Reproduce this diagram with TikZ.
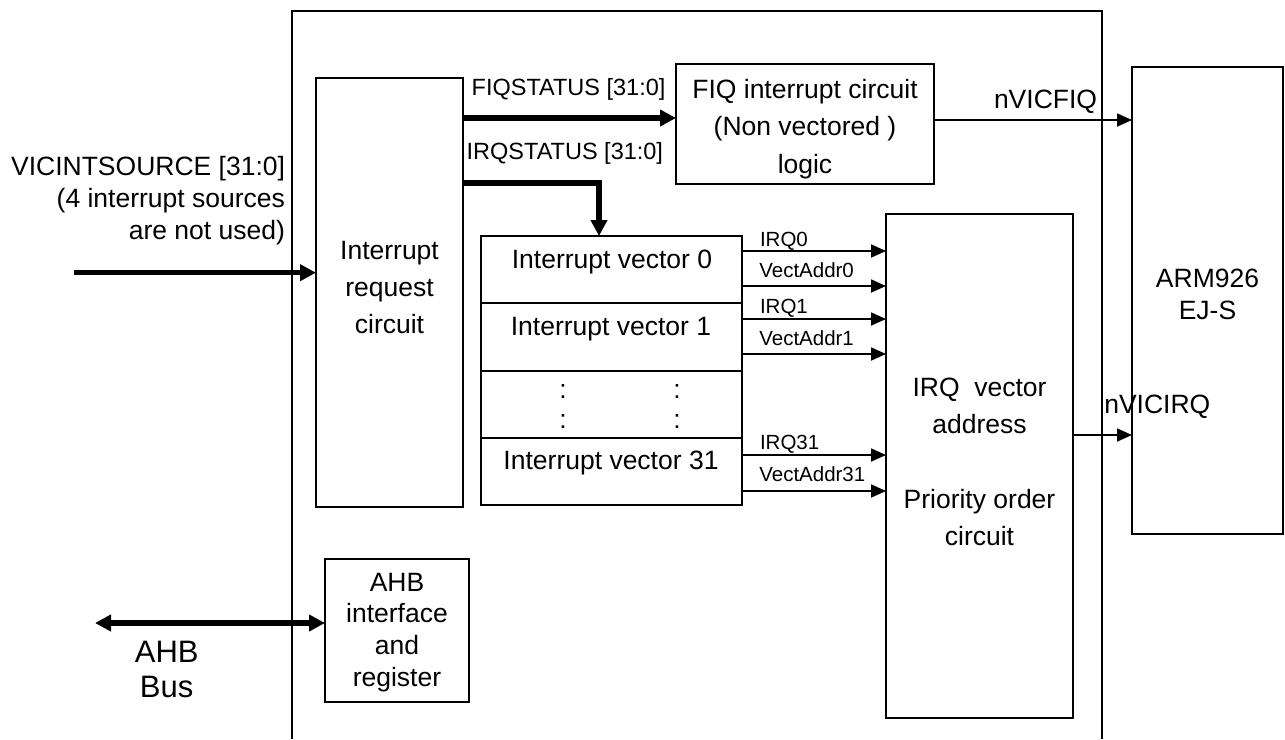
\documentclass[tikz,border=0pt]{standalone}
\usepackage{fontspec}
\setmainfont{Liberation Sans}
\usetikzlibrary{arrows.meta}
\newcommand\myfs[2]{\fontsize{#1pt}{#2pt}\selectfont}
\begin{document}
\begin{tikzpicture}[x=1pt,y=-1pt,
  box/.style={draw,line width=1.8pt,inner sep=0pt,outer sep=0pt,anchor=north west},
  ln/.style={line width=1.8pt},
  txt/.style={inner sep=0pt,outer sep=0pt,font=\myfs{26.5}{32}},
  stat/.style={inner sep=0pt,outer sep=0pt,font=\myfs{23.5}{28},anchor=base west},
  sig/.style={inner sep=0pt,outer sep=0pt,font=\myfs{20.5}{24},anchor=base west},
  thinarrow/.style={line width=1.8pt,-{Triangle[length=15pt,width=13pt]}},
  thickarrow/.style={line width=5.5pt,-{Triangle[length=16pt,width=16pt]}},
  dblarrow/.style={line width=5.5pt,{Triangle[length=16pt,width=16pt]}-{Triangle[length=16pt,width=16pt]}}
]
\useasboundingbox (0,0) rectangle (1285,739);
\fill[white] (0,0) rectangle (1285,739);

% outer frame (open at bottom)
\coordinate (fbl) at (292,739);
\coordinate (ftl) at (292,11);
\coordinate (ftr) at (1102,11);
\coordinate (fbr) at (1102,739);
\draw[ln] (fbl) -- (ftl) -- (ftr) -- (fbr);

% boxes
\node[box,minimum width=147pt,minimum height=429pt] (irc) at (316,78) {};
\node[box,minimum width=258pt,minimum height=120pt] (fiq) at (676,64) {};
\node[box,minimum width=261pt,minimum height=269pt] (vec) at (481,236) {};
\node[box,minimum width=187pt,minimum height=504pt] (irq) at (886,214) {};
\node[box,minimum width=151pt,minimum height=467pt] (arm) at (1132,67) {};
\node[box,minimum width=144pt,minimum height=143pt] (ahb) at (325,559) {};

% vector dividers
\draw[ln] (vec.west |- 0,303) -- (vec.east |- 0,303);
\draw[ln] (vec.west |- 0,371) -- (vec.east |- 0,371);
\draw[ln] (vec.west |- 0,438) -- (vec.east |- 0,438);

% box texts
\node[txt,align=right,anchor=north east] (srctxt) at (285,156) {VICINTSOURCE [31:0]\\(4 interrupt sources\\are not used)};
\node[txt,align=center,anchor=north,font=\myfs{26.5}{37}] (irctxt) at (389.5,241.5) {Interrupt\\request\\circuit};
\node[txt,align=center,anchor=north,font=\myfs{26.5}{37.5}] (fiqtxt) at (805,79) {FIQ interrupt circuit\\(Non vectored )\\logic};
\node[txt,align=center,anchor=north,font=\myfs{26.5}{31.7}] (ahbtxt) at (397,573) {AHB\\interface\\and\\register};
\node[txt,align=center,anchor=north,font=\myfs{26.5}{31.7}] (armtxt) at (1207.5,269) {ARM926\\EJ-S};
\node[txt,align=center,anchor=north,font=\myfs{26.5}{37.3}] (irqtxt) at (979.5,378) {IRQ\ \ vector\\address\\[37.3pt]Priority order\\circuit};
\node[txt,align=center,anchor=north,font=\myfs{31}{35}] (bustxt) at (166.7,641) {AHB\\Bus};

\node[txt,anchor=base] (v0) at (612,268.3) {Interrupt vector 0};
\node[txt,anchor=base] (v1) at (611,335) {Interrupt vector 1};
\node[txt,anchor=base] (v31) at (611,469.3) {Interrupt vector 31};
\node[txt,anchor=base] (c1) at (563,398) {:};
\node[txt,anchor=base] (c2) at (677,398) {:};
\node[txt,anchor=base] (c3) at (563,428) {:};
\node[txt,anchor=base] (c4) at (677,428) {:};

% status labels
\node[stat] (fiqs) at (471.7,95) {FIQSTATUS [31:0]};
\node[stat] (irqs) at (466.7,159.3) {IRQSTATUS [31:0]};
\node[txt,anchor=base west] (nfiq) at (994,108.3) {nVICFIQ};
\node[txt,anchor=base west] (nirq) at (1104.3,413.3) {nVICIRQ};

% signal labels
\node[sig] (l0) at (760,246) {IRQ0};
\node[sig] (l1) at (759.3,277) {VectAddr0};
\node[sig] (l2) at (760,313.3) {IRQ1};
\node[sig] (l3) at (759.3,345.7) {VectAddr1};
\node[sig] (l4) at (760,449.3) {IRQ31};
\node[sig] (l5) at (759.3,481.7) {VectAddr31};

% connectors
\coordinate (src) at (74,272.7);
\draw[thickarrow] (src) -- (irc.west |- src);
\draw[thickarrow] (irc.east |- 0,118) -- (fiq.west |- 0,118);
\draw[thickarrow,line join=miter] (irc.east |- 0,183) -| (vec.north -| 599,0);
\foreach \yy in {251,286,319,354,455,491}
  \draw[thinarrow] (vec.east |- 0,\yy) -- (irq.west |- 0,\yy);
\draw[thinarrow] (fiq.east |- 0,120) -- (arm.west |- 0,120);
\draw[thinarrow] (irq.east |- 0,435) -- (arm.west |- 0,435);
\coordinate (bus) at (95,623);
\draw[dblarrow] (bus) -- (ahb.west |- bus);
\end{tikzpicture}
\end{document}
